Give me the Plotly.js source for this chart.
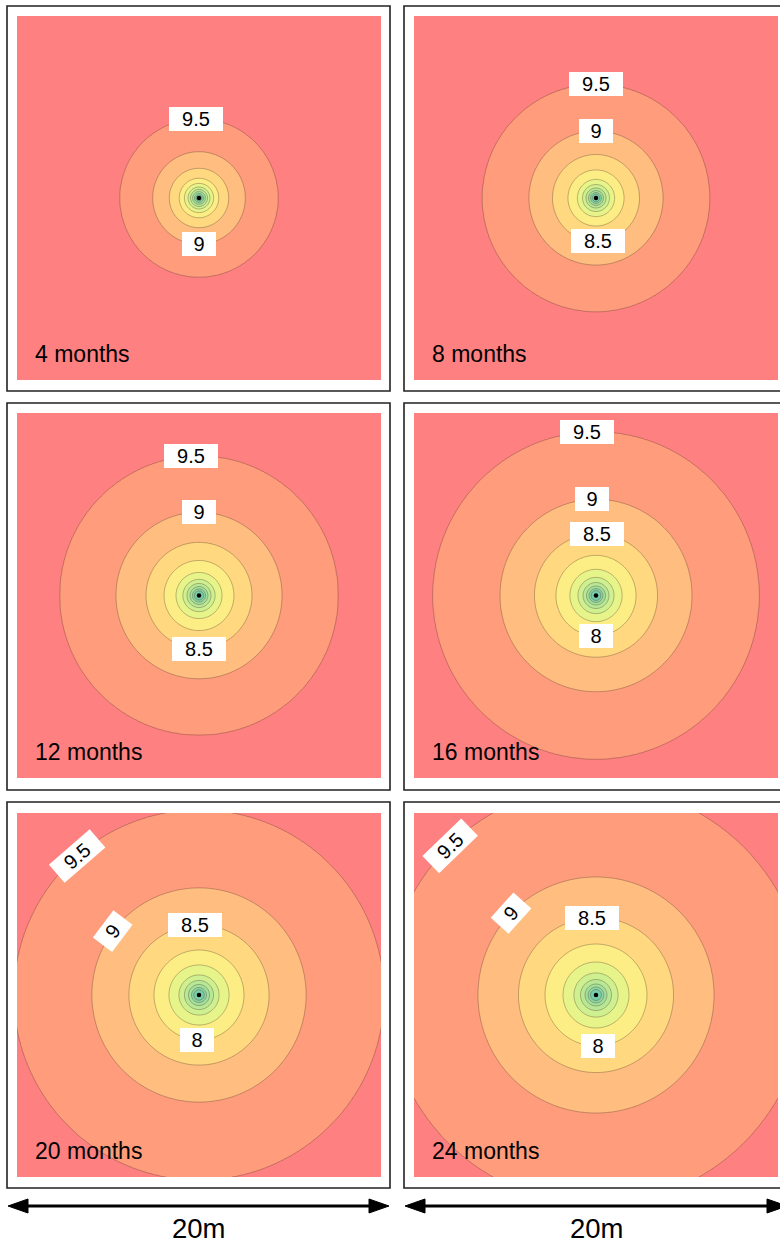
<!DOCTYPE html>
<html>
<head>
<meta charset="utf-8">
<script src="https://cdn.plot.ly/plotly-3.0.1.min.js"></script>
<style>
  html, body { margin: 0; padding: 0; background: #ffffff; }
  #chart { width: 780px; height: 1243px; }
</style>
</head>
<body>
<div id="chart"></div>
<script>
// Head contour levels (m) drawn in every panel
const levels = [9.5, 9, 8.5, 8, 7.5, 7, 6.5, 6, 5.5, 5];

// Elapsed pumping time for each panel
const periods = ['4 months', '8 months', '12 months', '16 months', '20 months', '24 months'];

// Distance from the well (m) at which the head falls to each level above
const radius4m  = [4.34, 2.54, 1.63, 1.08, 0.80, 0.60, 0.47, 0.35, 0.25, 0.16];
const radius8m  = [6.24, 3.68, 2.39, 1.54, 1.02, 0.74, 0.55, 0.41, 0.30, 0.21];
const radius12m = [7.64, 4.56, 2.91, 1.92, 1.26, 0.88, 0.66, 0.49, 0.36, 0.25];
const radius16m = [8.96, 5.27, 3.38, 2.20, 1.43, 0.99, 0.71, 0.52, 0.38, 0.27];
const radius20m = [10.16, 5.88, 3.85, 2.47, 1.65, 1.10, 0.80, 0.58, 0.41, 0.29];
const radius24m = [11.48, 6.48, 4.26, 2.80, 1.81, 1.21, 0.85, 0.60, 0.44, 0.30];

// Labelled contours in each panel: level, position angle on the ring (deg), text rotation (deg)
const labels4m  = [9.5, 9];        const angles4m  = [92.5, -90];            const tilt4m  = [0, 0];
const labels8m  = [9.5, 9, 8.5];   const angles8m  = [90, 90, -87];          const tilt8m  = [0, 0, 0];
const labels12m = [9.5, 9, 8.5];   const angles12m = [93.3, 90, -90];        const tilt12m = [0, 0, 0];
const labels16m = [9.5, 9, 8.5, 8]; const angles16m = [93.2, 92.4, 89, -90]; const tilt16m = [0, 0, 0, 0];
const labels20m = [9.5, 9, 8.5, 8]; const angles20m = [131.2, 143.5, 93.3, -92]; const tilt20m = [-41, -53, 0, 0];
const labels24m = [9.5, 9, 8.5, 8]; const angles24m = [134.4, 136, 93, -88];  const tilt24m = [-44, -48, 0, 0];

// Fill colour of each band, from below the lowest level up to above 9.5
const bandColors = [
  '#78cca8', '#8cd6a4', '#a2e09c', '#b8e896', '#cef090', '#e6f48a',
  '#fcee84', '#ffd880', '#ffbe80', '#ff9c7c', '#ff8080'
];

// Well location
const wellX = [0];
const wellY = [0];

const scaleLabel = '20m';

const radiusSets = [radius4m, radius8m, radius12m, radius16m, radius20m, radius24m];
const labelSets  = [labels4m, labels8m, labels12m, labels16m, labels20m, labels24m];
const angleSets  = [angles4m, angles8m, angles12m, angles16m, angles20m, angles24m];
const tiltSets   = [tilt4m, tilt8m, tilt12m, tilt16m, tilt20m, tilt24m];

// ---- page geometry (pixels) ----
const W = 780, H = 1243;
const px = x => x / W;
const py = y => 1 - y / H;
const colPlot  = [[17, 381], [414, 778]];
const rowPlot  = [[16, 380], [413, 778], [813, 1177]];
const colFrame = [[7, 390], [404, 788]];
const rowFrame = [[6, 391], [403, 790], [802, 1188]];

// Head at distance r, log-linear between the ring radii
function headAt(r, radii) {
  const n = radii.length;
  if (r >= radii[0]) return levels[0] + 0.45 * (1 - radii[0] / r);
  if (r <= radii[n - 1]) {
    const step = Math.log(radii[n - 2] / radii[n - 1]);
    const z = levels[n - 1] - 0.5 * Math.log(radii[n - 1] / Math.max(r, 1e-3)) / step;
    return Math.max(z, 3);
  }
  for (let k = 0; k < n - 1; k++) {
    if (r <= radii[k] && r >= radii[k + 1]) {
      const t = Math.log(r / radii[k + 1]) / Math.log(radii[k] / radii[k + 1]);
      return levels[k + 1] + t * (levels[k] - levels[k + 1]);
    }
  }
  return levels[0];
}

const N = 221;
const grid = [];
for (let i = 0; i < N; i++) grid.push(-10 + 20 * i / (N - 1));

// discrete colour scale: one stop per band
const nb = bandColors.length;
const colorscale = bandColors.map((c, j) => [j / (nb - 1), c]);

const traces = [];
const annotations = [];
const shapes = [];
const layout = {
  width: W, height: H,
  margin: { l: 0, r: 0, t: 0, b: 0 },
  paper_bgcolor: '#ffffff',
  plot_bgcolor: '#ffffff',
  showlegend: false,
  font: { family: 'Liberation Sans, Arial, sans-serif', color: '#000000' }
};

radiusSets.forEach((radii, p) => {
  const col = p % 2, row = Math.floor(p / 2);
  const ax = p === 0 ? '' : String(p + 1);
  const xa = 'x' + ax, ya = 'y' + ax;

  const z = grid.map(y => grid.map(x => headAt(Math.hypot(x, y), radii)));

  traces.push({
    type: 'contour', x: grid, y: grid, z: z,
    xaxis: xa, yaxis: ya,
    autocontour: false,
    contours: { start: 5, end: 9.5, size: 0.5, coloring: 'fill', showlines: true },
    colorscale: colorscale,
    showscale: false,
    line: { color: 'rgba(70,45,35,0.55)', width: 0.6, smoothing: 1 },
    hoverinfo: 'skip'
  });
  traces.push({
    type: 'scatter', mode: 'markers', x: wellX, y: wellY,
    xaxis: xa, yaxis: ya,
    marker: { color: '#000000', size: 4.5 },
    hoverinfo: 'skip'
  });

  const axCommon = { range: [-10, 10], visible: false, fixedrange: true, showgrid: false, zeroline: false };
  layout['xaxis' + ax] = Object.assign({}, axCommon, {
    domain: [px(colPlot[col][0]), px(colPlot[col][1])], anchor: ya
  });
  layout['yaxis' + ax] = Object.assign({}, axCommon, {
    domain: [py(rowPlot[row][1]), py(rowPlot[row][0])], anchor: xa
  });

  // contour value labels, placed on their rings
  labelSets[p].forEach((lv, k) => {
    const r = radii[levels.indexOf(lv)];
    const a = angleSets[p][k] * Math.PI / 180;
    const txt = String(lv);
    annotations.push({
      xref: xa, yref: ya,
      x: r * Math.cos(a), y: r * Math.sin(a),
      text: txt, showarrow: false,
      bgcolor: '#ffffff', borderpad: 1, borderwidth: 0,
      width: txt.length > 1 ? 52 : 32, height: 22,
      textangle: tiltSets[p][k],
      font: { size: 20, color: '#000000' }
    });
  });

  // elapsed-time caption
  annotations.push({
    xref: 'paper', yref: 'paper',
    x: px(colPlot[col][0] + 16), y: py(rowPlot[row][1] - 26),
    xanchor: 'left', yanchor: 'middle',
    text: periods[p], showarrow: false,
    font: { size: 23, color: '#000000' }
  });

  // panel frame
  shapes.push({
    type: 'rect', xref: 'paper', yref: 'paper',
    x0: px(colFrame[col][0]), x1: px(colFrame[col][1]),
    y0: py(rowFrame[row][1]), y1: py(rowFrame[row][0]),
    line: { color: '#222222', width: 1.6 }, fillcolor: 'rgba(0,0,0,0)'
  });
});

// scale bars under each column
const arrowY = 1206;
colFrame.forEach(([a, b]) => {
  const l = a + 1, r = b - 1;
  shapes.push({
    type: 'line', xref: 'paper', yref: 'paper',
    x0: px(l + 15), x1: px(r - 15), y0: py(arrowY), y1: py(arrowY),
    line: { color: '#000000', width: 3 }
  });
  const head = (tip, base) =>
    `M ${px(tip)},${py(arrowY)} L ${px(base)},${py(arrowY - 7)} L ${px(base)},${py(arrowY + 7)} Z`;
  shapes.push({ type: 'path', xref: 'paper', yref: 'paper', path: head(l, l + 20),
    fillcolor: '#000000', line: { color: '#000000', width: 1 } });
  shapes.push({ type: 'path', xref: 'paper', yref: 'paper', path: head(r, r - 20),
    fillcolor: '#000000', line: { color: '#000000', width: 1 } });
  annotations.push({
    xref: 'paper', yref: 'paper', x: px((a + b) / 2 + 0.5), y: py(1228),
    xanchor: 'center', yanchor: 'middle',
    text: scaleLabel, showarrow: false,
    font: { size: 27.5, color: '#000000' }
  });
});

layout.annotations = annotations;
layout.shapes = shapes;

Plotly.newPlot('chart', traces, layout, { staticPlot: true, displayModeBar: false });
</script>
</body>
</html>
